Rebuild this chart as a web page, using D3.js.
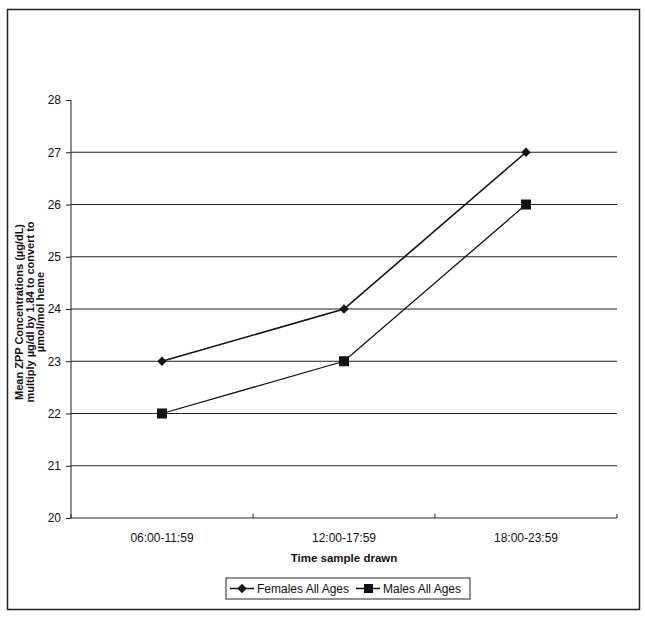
<!DOCTYPE html>
<html lang="en">
<head>
<meta charset="UTF-8">
<script src="https://d3js.org/d3.v7.min.js"></script>
<style>
    body { margin: 0; background: #fff; }
    svg text { font-family: "Liberation Sans", Arial, sans-serif; fill: #111; }
    .tick-label { font-size: 12px; }
    .grid line { stroke: #222; stroke-width: 1; }
    .axis path, .axis line { stroke: #222; }
</style>
</head>
<body>
<svg id="chart" width="645" height="619"></svg>
<script>
    // data
    const categories = ["06:00-11:59", "12:00-17:59", "18:00-23:59"];
    const females = [23, 24, 27];
    const males = [22, 23, 26];
    const yTicks = [20, 21, 22, 23, 24, 25, 26, 27, 28];

    const svg = d3.select("#chart");
    const margin = { top: 100, right: 28, bottom: 101, left: 71 };
    const width = 645 - margin.left - margin.right;
    const height = 619 - margin.top - margin.bottom;

    // outer frame
    svg.append("rect")
        .attr("x", 7.5).attr("y", 9.5)
        .attr("width", 632).attr("height", 600)
        .attr("fill", "none").attr("stroke", "#222").attr("stroke-width", 1.5);

    const g = svg.append("g").attr("transform", "translate(" + margin.left + "," + margin.top + ")");

    const x = d3.scaleBand().domain(categories).range([0, width]);
    const y = d3.scaleLinear().domain([20, 28]).range([height, 0]);

    // horizontal gridlines
    g.append("g").attr("class", "grid")
        .selectAll("line").data(yTicks.filter(d => d > 20 && d < 28))
        .enter().append("line")
        .attr("x1", 0).attr("x2", width)
        .attr("y1", d => y(d)).attr("y2", d => y(d));

    // y axis
    const yAxis = g.append("g").attr("class", "axis")
        .call(d3.axisLeft(y).tickValues(yTicks).tickSize(5).tickSizeOuter(0));
    yAxis.select(".domain").remove();
    yAxis.append("line").attr("x1", 0).attr("x2", 0).attr("y1", 0).attr("y2", height).attr("stroke", "#222");
    yAxis.selectAll("text").attr("class", "tick-label").attr("x", -10).attr("font-size", null).attr("font-family", null);

    // x axis with ticks on band edges
    const xg = g.append("g").attr("class", "axis").attr("transform", "translate(0," + height + ")");
    xg.append("line").attr("x1", 0).attr("x2", width).attr("stroke", "#222").attr("stroke-width", 1.2);
    const edges = categories.map(c => x(c)).concat([width]);
    xg.selectAll(".edge").data(edges).enter().append("line")
        .attr("x1", d => d).attr("x2", d => d).attr("y1", -4).attr("y2", 0).attr("stroke", "#222");
    xg.selectAll(".cat").data(categories).enter().append("text")
        .attr("class", "tick-label")
        .attr("x", d => x(d) + x.bandwidth() / 2)
        .attr("y", 24)
        .attr("text-anchor", "middle")
        .text(d => d);

    // axis titles
    g.append("text")
        .attr("x", width / 2).attr("y", height + 44)
        .attr("text-anchor", "middle")
        .attr("font-size", "11.5px").attr("font-weight", "bold")
        .text("Time sample drawn");

    // rotated y title, three lines stacked left to right
    const yTitle = svg.append("text")
        .attr("transform", "translate(23,312) rotate(-90)")
        .attr("text-anchor", "middle")
        .attr("font-size", "11px").attr("font-weight", "bold");
    ["Mean ZPP Concentrations (µg/dL)", "multiply µg/dl by 1.84 to convert to", "µmol/mol heme"]
        .forEach((t, i) => yTitle.append("tspan").attr("x", 0).attr("dy", i === 0 ? 0 : 10.5).text(t));

    // series
    const cx = d => x(d) + x.bandwidth() / 2;
    const line = d3.line().x((d, i) => cx(categories[i])).y(d => y(d));

    g.append("path").datum(females)
        .attr("fill", "none").attr("stroke", "#111").attr("stroke-width", 1.6)
        .attr("d", line);
    g.append("path").datum(males)
        .attr("fill", "none").attr("stroke", "#111").attr("stroke-width", 1.3)
        .attr("d", line);

    const diamond = d3.symbol().type(d3.symbolDiamond2).size(55);
    g.selectAll(".fem").data(females).enter().append("path")
        .attr("transform", (d, i) => "translate(" + cx(categories[i]) + "," + y(d) + ")")
        .attr("d", diamond).attr("fill", "#111");
    g.selectAll(".mal").data(males).enter().append("rect")
        .attr("x", (d, i) => cx(categories[i]) - 5)
        .attr("y", d => y(d) - 5)
        .attr("width", 10).attr("height", 10).attr("fill", "#111");

    // legend
    const legend = svg.append("g").attr("transform", "translate(226,578)");
    legend.append("rect").attr("width", 244).attr("height", 21)
        .attr("fill", "none").attr("stroke", "#222").attr("stroke-width", 1);
    const series = [
        { name: "Females All Ages", x0: 4, mark: "diamond" },
        { name: "Males All Ages", x0: 130, mark: "square" }
    ];
    series.forEach(s => {
        legend.append("line").attr("x1", s.x0).attr("x2", s.x0 + 24).attr("y1", 10.5).attr("y2", 10.5)
            .attr("stroke", "#111").attr("stroke-width", 1.5);
        if (s.mark === "diamond") {
            legend.append("path").attr("transform", "translate(" + (s.x0 + 12) + ",10.5)")
                .attr("d", diamond).attr("fill", "#111");
        } else {
            legend.append("rect").attr("x", s.x0 + 8).attr("y", 6).attr("width", 9).attr("height", 9).attr("fill", "#111");
        }
        legend.append("text").attr("x", s.x0 + 27).attr("y", 15)
            .attr("font-size", "12px").text(s.name);
    });
</script>
</body>
</html>
